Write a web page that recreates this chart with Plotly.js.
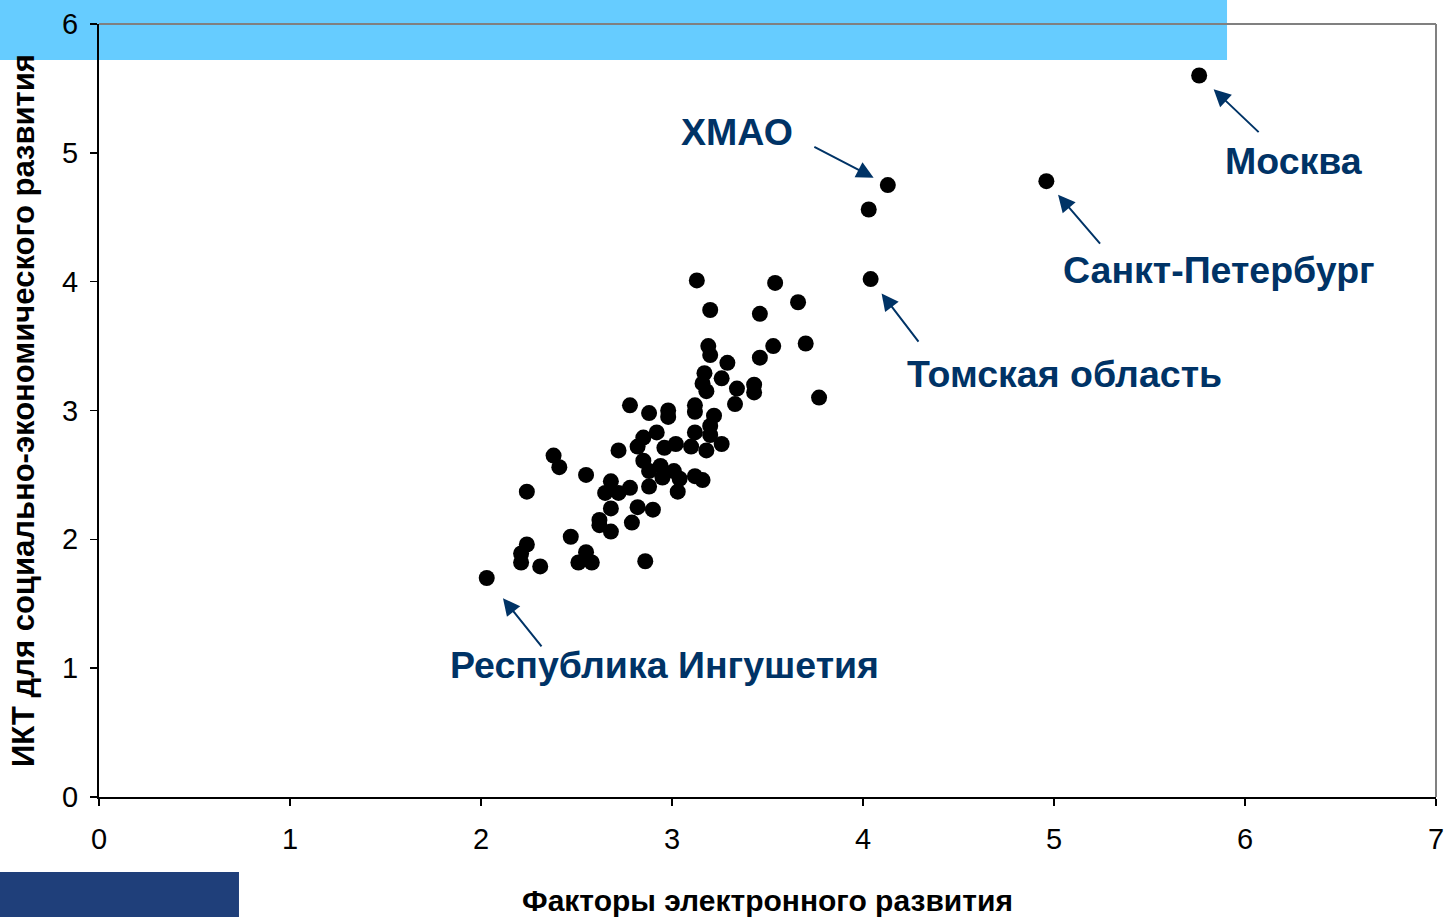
<!DOCTYPE html>
<html>
<head>
<meta charset="utf-8">
<script src="https://cdn.plot.ly/plotly-3.0.1.min.js"></script>
<style>html,body{margin:0;padding:0;background:#fff;}#chart{width:1456px;height:917px;}</style>
</head>
<body>
<div id="chart"></div>
<script>
// Факторы электронного развития (x) vs ИКТ для социально-экономического развития (y)
const regionX = [5.76, 4.96, 4.13, 4.03, 4.04, 2.03,
  3.13, 3.54, 3.66, 3.20, 3.46, 3.70, 3.53, 3.19, 3.20, 3.46, 3.29, 3.17, 3.26, 3.16, 3.18, 3.34, 3.33, 3.43, 3.43, 3.77,
  2.78, 2.88, 2.98, 2.98, 3.12, 3.12, 3.22, 3.20, 2.92, 2.85, 3.12, 3.20, 2.72, 2.82, 2.96, 3.02, 3.10, 3.18, 3.26,
  2.85, 2.94, 2.88, 3.01, 2.95, 3.04, 3.12, 3.16, 3.03, 2.88, 2.68, 2.78, 2.65, 2.72, 2.68, 2.82, 2.90,
  2.38, 2.41, 2.55, 2.24, 2.62, 2.62, 2.68, 2.79, 2.47, 2.24, 2.21, 2.21, 2.31, 2.55, 2.51, 2.58, 2.86];
const regionY = [5.60, 4.78, 4.75, 4.56, 4.02, 1.70,
  4.01, 3.99, 3.84, 3.78, 3.75, 3.52, 3.50, 3.50, 3.43, 3.41, 3.37, 3.29, 3.25, 3.21, 3.15, 3.17, 3.05, 3.20, 3.14, 3.10,
  3.04, 2.98, 3.00, 2.95, 3.04, 2.99, 2.96, 2.88, 2.83, 2.79, 2.83, 2.81, 2.69, 2.72, 2.71, 2.74, 2.72, 2.69, 2.74,
  2.61, 2.57, 2.53, 2.53, 2.48, 2.47, 2.49, 2.46, 2.37, 2.41, 2.45, 2.40, 2.36, 2.36, 2.24, 2.25, 2.23,
  2.65, 2.56, 2.50, 2.37, 2.15, 2.11, 2.06, 2.13, 2.02, 1.96, 1.89, 1.82, 1.79, 1.90, 1.82, 1.82, 1.83];

// labelled regions: index into arrays, label text
const labelIdx = [0, 1, 2, 4, 5];
const labelText = ["Москва", "Санкт-Петербург", "ХМАО", "Томская область", "Республика Ингушетия"];
const arrowTail = [[61, 58], [55, 64], [-75, -39], [49, 64], [56, 70]];
const arrowStand = [20, 18, 16, 18, 26];
const labelPos = [[0.8938, 0.8228], [0.8376, 0.6818], [0.4771, 0.8603], [0.7225, 0.5472], [0.4226, 0.1708]];

const xTitle = "Факторы электронного развития";
const yTitle = "ИКТ для социально-экономического развития";

const FONT = "Liberation Sans, Arial, sans-serif";
const NAVY = "#003366";

const annotations = [];
labelIdx.forEach((idx, i) => {
  annotations.push({
    x: regionX[idx], y: regionY[idx], xref: 'x', yref: 'y',
    text: '', showarrow: true, ax: arrowTail[i][0], ay: arrowTail[i][1],
    axref: 'pixel', ayref: 'pixel',
    arrowhead: 2, arrowsize: 1.7, arrowwidth: 2, arrowcolor: NAVY,
    standoff: arrowStand[i]
  });
  annotations.push({
    x: labelPos[i][0], y: labelPos[i][1], xref: 'paper', yref: 'paper',
    xanchor: 'center', yanchor: 'middle', showarrow: false,
    text: '<b>' + labelText[i] + '</b>',
    font: {family: FONT, size: 37.5, color: NAVY}
  });
});

const data = [{
  type: 'scatter', mode: 'markers', x: regionX, y: regionY,
  marker: {color: '#000000', size: 16, line: {width: 0}},
  hoverinfo: 'x+y', showlegend: false, cliponaxis: false
}];

const layout = {
  width: 1456, height: 917,
  margin: {l: 99, r: 20, t: 24, b: 120},
  paper_bgcolor: '#ffffff', plot_bgcolor: 'rgba(0,0,0,0)',
  font: {family: FONT, color: '#000'},
  showlegend: false,
  xaxis: {
    range: [0, 7], dtick: 1, tick0: 0, showgrid: false, zeroline: false,
    showline: true, linecolor: '#000', linewidth: 2,
    ticks: 'outside', ticklen: 7, tickcolor: '#000', tickwidth: 1.5,
    ticklabelstandoff: 8,
    tickfont: {family: FONT, size: 29, color: '#000'},
    title: {text: '<b>' + xTitle + '</b>', font: {family: FONT, size: 30, color: '#000'}, standoff: 44}
  },
  yaxis: {
    range: [0, 6], dtick: 1, tick0: 0, showgrid: false, zeroline: false,
    showline: true, linecolor: '#000', linewidth: 2,
    ticks: 'outside', ticklen: 7, tickcolor: '#000', tickwidth: 1.5,
    ticklabelstandoff: 6,
    tickfont: {family: FONT, size: 29, color: '#000'},
    title: {text: '<b>' + yTitle + '</b>', font: {family: FONT, size: 31, color: '#000'}, standoff: 18}
  },
  shapes: [
    {type: 'rect', xref: 'paper', yref: 'paper', x0: -0.075, x1: 0.8437, y0: 0.9534, y1: 1.04,
     fillcolor: '#66ccff', line: {width: 0}, layer: 'below'},
    {type: 'rect', xref: 'paper', yref: 'paper', x0: -0.075, x1: 0.1047, y0: -0.16, y1: -0.097,
     fillcolor: '#1f3f7a', line: {width: 0}, layer: 'below'},
    {type: 'line', xref: 'paper', yref: 'paper', x0: 0, x1: 1, y0: 1, y1: 1,
     line: {color: '#808080', width: 2}},
    {type: 'line', xref: 'paper', yref: 'paper', x0: 1, x1: 1, y0: 0, y1: 1,
     line: {color: '#808080', width: 2}}
  ],
  annotations: annotations
};

Plotly.newPlot('chart', data, layout, {displayModeBar: false, staticPlot: true});
</script>
</body>
</html>
